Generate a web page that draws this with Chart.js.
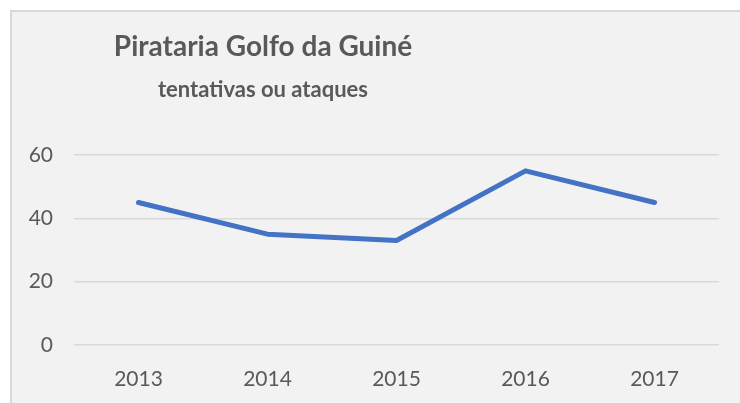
<!DOCTYPE html>
<html>
<head>
<meta charset="utf-8">
<script src="https://cdn.jsdelivr.net/npm/chart.js@4"></script>
<style>
  html, body { margin: 0; padding: 0; background: #fff; overflow: hidden; }
  #caixa {
    position: absolute; left: 10px; top: 10px;
    width: 728px; height: 391px;
    background: #f2f2f2; border: 2px solid #d9d9d9;
  }
</style>
</head>
<body>
<div id="caixa"><canvas id="grafico" width="728" height="391"></canvas></div>
<script>
const anos = ['2013', '2014', '2015', '2016', '2017']; // categorias do eixo X
const ataques = [45, 35, 33, 55, 45]; // tentativas ou ataques por ano
const titulo = 'Pirataria Golfo da Guiné';
const subtitulo = 'tentativas ou ataques';

// desenha o título e subtítulo (centralizados fora do centro do canvas, como no original)
const titulos = {
  id: 'titulos',
  afterDraw(chart) {
    const c = chart.ctx;
    c.save();
    c.fillStyle = '#595959';
    c.textAlign = 'center';
    c.textBaseline = 'alphabetic';
    c.font = 'bold 28px Lato';
    c.fillText(titulo, 251, 44);
    c.font = 'bold 22px Lato';
    c.fillText(subtitulo, 251, 85);
    c.restore();
  }
};

const ctx = document.getElementById('grafico').getContext('2d');

new Chart(ctx, {
  type: 'line',
  data: {
    labels: anos,
    datasets: [{
      data: ataques,
      borderColor: '#4472c4',
      borderWidth: 5,
      borderCapStyle: 'round',
      borderJoinStyle: 'round',
      pointRadius: 0,
      tension: 0,
      fill: false
    }]
  },
  options: {
    responsive: false,
    animation: false,
    layout: { padding: { top: 143, right: 21, bottom: 0, left: 0 } },
    scales: {
      x: {
        offset: true,
        grid: { display: false },
        border: { display: false },
        ticks: { color: '#595959', font: { family: 'Lato', size: 21 }, padding: 14 },
        afterFit: s => { s.height = 58; }
      },
      y: {
        min: 0,
        max: 60,
        ticks: { stepSize: 20, color: '#595959', font: { family: 'Lato', size: 21 }, padding: 21 },
        grid: { color: '#d9d9d9', lineWidth: 1.5, drawTicks: false },
        border: { display: false },
        afterFit: s => { s.width = 62; }
      }
    },
    plugins: { legend: { display: false }, tooltip: { enabled: false } }
  },
  plugins: [titulos]
});
</script>
</body>
</html>
